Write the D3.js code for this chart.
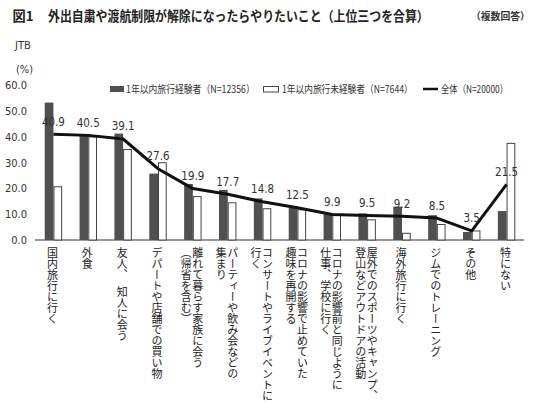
<!DOCTYPE html>
<html>
<head>
<meta charset="utf-8">
<script src="https://cdn.jsdelivr.net/npm/d3@7"></script>
<style>
  html, body { margin: 0; padding: 0; background: #fff; }
  svg { display: block; }
  .cjk { font-family: "Noto Sans CJK JP", "Noto Sans", sans-serif; }
  .num { font-family: "Liberation Sans Narrow", "DejaVu Sans Condensed", "Roboto Condensed", "Liberation Sans", sans-serif; }
</style>
</head>
<body>
<script>
// ---- data ----
const categories = [
  ["国内旅行に行く"],
  ["外食"],
  ["友人、　知人に会う"],
  ["デパートや店舗での買い物"],
  ["離れて暮らす家族に会う", "（帰省を含む）"],
  ["パーティーや飲み会などの", "集まり"],
  ["コンサートやライブイベントに", "行く"],
  ["コロナの影響で止めていた", "趣味を再開する"],
  ["コロナの影響前と同じように", "仕事、学校に行く"],
  ["屋外でのスポーツやキャンプ、", "登山などアウトドアの活動"],
  ["海外旅行に行く"],
  ["ジムでのトレーニング"],
  ["その他"],
  ["特にない"]
];
const experienced   = [53.2, 40.7, 41.2, 25.7, 21.7, 19.4, 16.1, 12.5, 10.0, 10.3, 12.9, 9.6, 3.1, 11.2];
const inexperienced = [20.8, 40.1, 35.2, 30.1, 17.0, 14.6, 12.3, 11.9, 9.7, 8.0, 2.8, 6.2, 3.7, 37.6];
const overall       = [40.9, 40.5, 39.1, 27.6, 19.9, 17.7, 14.8, 12.5, 9.9, 9.5, 9.2, 8.5, 3.5, 21.5];
const yTicks = [0, 10, 20, 30, 40, 50, 60];
const seriesNames = ["1年以内旅行経験者（N=12356）", "1年以内旅行未経験者（N=7644）", "全体（N=20000）"];
const titleMain = "外出自粛や渡航制限が解除になったらやりたいこと（上位三つを合算）";
const titleFig = "図1";
const titleNote = "（複数回答）";

// ---- chart ----
const W = 537, H = 403;
const svg = d3.select("body").append("svg").attr("width", W).attr("height", H);
svg.append("rect").attr("width", W).attr("height", H).attr("fill", "#fff");

// text squeezed horizontally to a target width (via transform, so its box is real)
function fitText(parent, str, x, yb, size, width, opts = {}) {
  const t = parent.append("text").attr("class", "cjk")
    .attr("font-size", size).attr("fill", opts.fill || "#333")
    .attr("font-weight", opts.weight || "normal").text(str);
  const natural = t.node().getComputedTextLength() || width;
  const sx = Math.min(1, width / natural);
  t.attr("transform", `translate(${x},${yb}) scale(${sx},1)`);
  return t;
}

const keys = categories.map(c => c.join("|"));
const x0 = d3.scaleBand().domain(keys).range([36, 524]).padding(0);
const bw = x0.bandwidth();
const x1 = d3.scaleBand().domain(["exp", "non"]).range([bw * 0.25, bw * 0.75]).padding(0);
const y = d3.scaleLinear().domain([0, 60]).range([240, 85]);

// title
fitText(svg, titleFig, 12.5, 20.5, 13.5, 21, { weight: "bold", fill: "#222" });
fitText(svg, titleMain, 48, 20.5, 13.5, 381, { weight: "bold", fill: "#222" });
svg.append("text").attr("class", "cjk").attr("x", 471).attr("y", 20)
  .attr("font-size", 9.8).attr("font-weight", "bold").attr("fill", "#333")
  .text(titleNote);

// source & unit
svg.append("text").attr("class", "num").attr("x", 15).attr("y", 49)
  .attr("font-size", 11).attr("fill", "#333").text("JTB");
svg.append("text").attr("class", "num").attr("x", 16).attr("y", 73)
  .attr("font-size", 11).attr("fill", "#333").text("(%)");

// y tick labels
svg.append("g").selectAll("text").data(yTicks).join("text")
  .attr("class", "num")
  .attr("x", 27).attr("y", d => y(d) + 4)
  .attr("text-anchor", "end").attr("font-size", 11).attr("fill", "#333")
  .text(d => d3.format(".1f")(d));

// axis line
svg.append("line").attr("x1", 35).attr("x2", 524).attr("y1", y(0)).attr("y2", y(0))
  .attr("stroke", "#333").attr("stroke-width", 1);

// bars
const groups = svg.append("g").selectAll("g").data(keys).join("g")
  .attr("transform", d => `translate(${x0(d)},0)`);
groups.append("rect")
  .attr("x", x1("exp")).attr("width", x1.bandwidth())
  .attr("y", (d, i) => y(experienced[i]))
  .attr("height", (d, i) => y(0) - y(experienced[i]))
  .attr("fill", "#505050");
groups.append("rect")
  .attr("x", x1("non") + 0.5).attr("width", x1.bandwidth() - 1)
  .attr("y", (d, i) => y(inexperienced[i]) + 0.5)
  .attr("height", (d, i) => y(0) - y(inexperienced[i]) - 0.5)
  .attr("fill", "#fff").attr("stroke", "#444").attr("stroke-width", 1);

// overall line
const cx = (d) => x0(d) + bw / 2;
const line = d3.line().x((d, i) => cx(keys[i])).y(d => y(d));
svg.append("path").datum(overall).attr("d", line)
  .attr("fill", "none").attr("stroke", "#111").attr("stroke-width", 3)
  .attr("stroke-linejoin", "round");

// value labels
svg.append("g").selectAll("text").data(overall).join("text")
  .attr("class", "num")
  .attr("x", (d, i) => cx(keys[i]))
  .attr("y", d => y(d) - 8.5)
  .attr("text-anchor", "middle").attr("font-size", 11.5).attr("fill", "#333")
  .text(d => d3.format(".1f")(d));

// category labels (vertical)
categories.forEach((lines, i) => {
  const c = cx(keys[i]);
  const offs = lines.length === 1 ? [-1] : [5, -6.5];
  lines.forEach((t, j) => {
    svg.append("text").attr("class", "cjk")
      .attr("x", c + offs[j]).attr("y", 247.5)
      .attr("font-size", 11).attr("fill", "#222")
      .style("writing-mode", "vertical-rl")
      .text(t);
  });
});

// legend
const lg = svg.append("g");
lg.append("rect").attr("x", 110).attr("y", 86).attr("width", 14).attr("height", 6).attr("fill", "#505050");
fitText(lg, seriesNames[0], 126, 93, 10.5, 129);
lg.append("rect").attr("x", 263.5).attr("y", 86.5).attr("width", 15).attr("height", 5.5)
  .attr("fill", "#fff").attr("stroke", "#444").attr("stroke-width", 1);
fitText(lg, seriesNames[1], 282, 93, 10.5, 131);
lg.append("line").attr("x1", 423).attr("x2", 438).attr("y1", 89).attr("y2", 89)
  .attr("stroke", "#111").attr("stroke-width", 2.5);
fitText(lg, seriesNames[2], 441, 93, 10.5, 67);
</script>
</body>
</html>
